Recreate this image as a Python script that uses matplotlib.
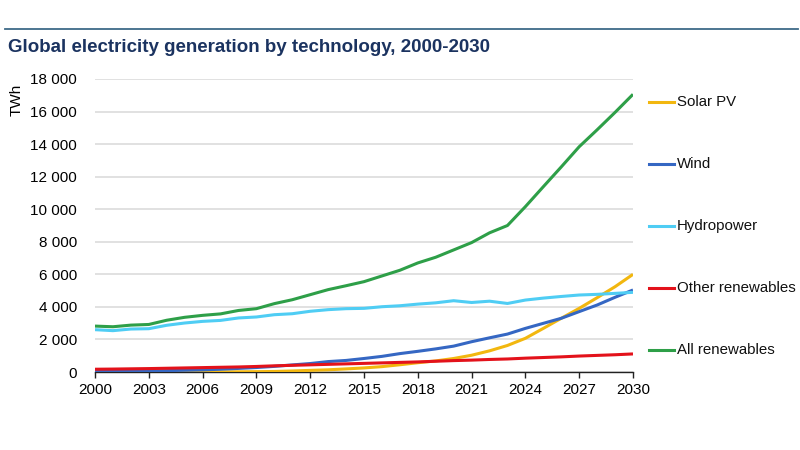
import matplotlib.pyplot as plt
from matplotlib.lines import Line2D

plt.rcParams['font.family'] = ['Liberation Sans', 'DejaVu Sans']

# Data (TWh)
years = list(range(2000, 2031))
solar_pv = [1, 1, 2, 3, 3, 4, 5, 7, 12, 20, 32, 62, 100, 135, 190, 250, 330, 445, 570, 680,
            830, 1030, 1300, 1630, 2070, 2680, 3300, 3910, 4565, 5240, 6000]
wind = [30, 40, 50, 65, 85, 105, 130, 170, 220, 275, 345, 435, 520, 640, 710, 830, 960, 1130,
        1270, 1420, 1590, 1860, 2100, 2330, 2680, 2990, 3300, 3710, 4115, 4590, 5040]
hydropower = [2600, 2540, 2640, 2660, 2870, 3010, 3110, 3170, 3320, 3380, 3520, 3580, 3730,
              3830, 3890, 3910, 4010, 4070, 4170, 4250, 4380, 4270, 4350, 4210, 4420, 4540,
              4640, 4730, 4770, 4830, 4895]
other_renewables = [170, 180, 195, 210, 230, 250, 270, 290, 310, 340, 380, 410, 440, 470, 500,
                    530, 560, 590, 620, 660, 700, 730, 770, 800, 850, 890, 930, 980, 1020,
                    1060, 1110]
all_renewables = [2820, 2780, 2880, 2920, 3180, 3360, 3480, 3570, 3780, 3890, 4200, 4440,
                  4750, 5060, 5300, 5550, 5900, 6250, 6700, 7050, 7500, 7950, 8550, 9000,
                  10160, 11385, 12600, 13840, 14880, 15950, 17060]

series = [
    ('Solar PV', solar_pv, '#F2B70F'),
    ('Wind', wind, '#3567C3'),
    ('Hydropower', hydropower, '#4FCDF4'),
    ('Other renewables', other_renewables, '#E3121B'),
    ('All renewables', all_renewables, '#2E9F48'),
]
x_ticks = list(range(2000, 2031, 3))
y_ticks = list(range(0, 18001, 2000))
y_labels = ['0' if v == 0 else f'{v // 1000} {v % 1000:03d}' for v in y_ticks]

fig = plt.figure(figsize=(8, 4.5), dpi=100)
ax = fig.add_axes([95 / 800, 1 - 372 / 450, (633 - 95) / 800, (372 - 79) / 450])

for name, vals, col in series:
    ax.plot(years, vals, color=col, linewidth=2.2, solid_capstyle='butt', zorder=3)

ax.set_xlim(2000, 2030)
ax.set_ylim(0, 18000)
ax.set_xticks(x_ticks)
ax.set_xticklabels([str(y) for y in x_ticks])
ax.set_yticks(y_ticks)
ax.set_yticklabels(y_labels)
ax.tick_params(axis='x', length=4, width=1, color='#222222', labelsize=11, pad=4)
ax.tick_params(axis='y', length=0, labelsize=11, pad=13)
ax.grid(axis='y', color='#DCDCDC', linewidth=1.2)
ax.set_axisbelow(True)
for s in ['top', 'right', 'left']:
    ax.spines[s].set_visible(False)
ax.spines['bottom'].set_color('#222222')
ax.spines['bottom'].set_linewidth(1)

ax.set_ylabel('TWh', fontsize=11)
ax.yaxis.set_label_coords(-0.132, 0.93)

# legend down the right side
leg_y = [102, 164, 226, 288, 350]
for (name, vals, col), ly in zip(series, leg_y):
    fy = 1 - ly / 450
    fig.add_artist(Line2D([649 / 800, 674 / 800], [fy, fy], color=col, linewidth=2.2))
    fig.text(677 / 800, fy, name, fontsize=10.8, va='center', ha='left', color='#111111')

# header rule and title
fig.add_artist(Line2D([5 / 800, 798 / 800], [1 - 29 / 450, 1 - 29 / 450],
                      color='#3E6A88', linewidth=1.3))
fig.text(8 / 800, 1 - 47 / 450, 'Global electricity generation by technology, 2000-2030',
         fontsize=13.5, fontweight='bold', color='#1B3360', va='center', ha='left')

plt.savefig('out.png', dpi=100)
